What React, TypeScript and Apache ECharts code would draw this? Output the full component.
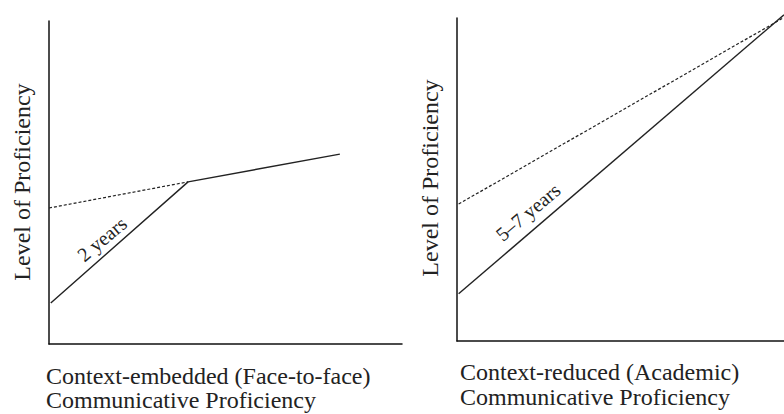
import React, { useEffect, useRef } from "react";
import * as echarts from "echarts";

// Left panel: context-embedded (face-to-face) proficiency
const leftDashed: [number, number][] = [[0, 42.1], [39.4, 50.2]];
const leftSolid: [number, number][] = [[0.5, 12.7], [39.4, 50.2], [82.4, 58.8]];
// Right panel: context-reduced (academic) proficiency
const rightDashed: [number, number][] = [[0.5, 42.4], [99.7, 100]];
const rightSolid: [number, number][] = [[0.5, 14.6], [100, 101]];

const yTitle = "Level of Proficiency";
const leftXTitle = ["Context-embedded (Face-to-face)", "Communicative Proficiency"];
const rightXTitle = ["Context-reduced (Academic)", "Communicative Proficiency"];
const leftNote = "2 years";
const rightNote = "5\u20137 years";

const FONT = "'Liberation Serif', 'Times New Roman', serif";
const INK = "#222";

export default function App() {
  const ref = useRef<HTMLDivElement>(null);
  useEffect(() => {
    if (!ref.current) return;
    const chart = echarts.init(ref.current, undefined, { renderer: "svg" });
    const axisCommon = {
      type: "value" as const,
      min: 0,
      max: 100,
      axisLine: { show: true, onZero: false, lineStyle: { color: "#111", width: 1.5 } },
      axisTick: { show: false },
      axisLabel: { show: false },
      splitLine: { show: false },
    };
    const lineCommon = {
      type: "line" as const,
      symbol: "none",
      clip: false,
      silent: true,
    };
    const ang = (40 * Math.PI) / 180;
    chart.setOption({
      animation: false,
      backgroundColor: "#fff",
      grid: [
        { left: 49, top: 21, width: 353, height: 323 },
        { left: 457, top: 18, width: 327, height: 323 },
      ],
      xAxis: [
        { ...axisCommon, gridIndex: 0 },
        { ...axisCommon, gridIndex: 1 },
      ],
      yAxis: [
        { ...axisCommon, gridIndex: 0 },
        { ...axisCommon, gridIndex: 1 },
      ],
      series: [
        { ...lineCommon, xAxisIndex: 0, yAxisIndex: 0, data: leftDashed, lineStyle: { color: INK, width: 1.2, type: [3, 2] } },
        { ...lineCommon, xAxisIndex: 0, yAxisIndex: 0, data: leftSolid, lineStyle: { color: INK, width: 1.4 } },
        { ...lineCommon, xAxisIndex: 1, yAxisIndex: 1, data: rightDashed, lineStyle: { color: INK, width: 1.2, type: [3, 2] } },
        { ...lineCommon, xAxisIndex: 1, yAxisIndex: 1, data: rightSolid, lineStyle: { color: INK, width: 1.4 } },
      ],
      graphic: [
        { type: "text", x: 22, y: 182, rotation: Math.PI / 2, style: { text: yTitle, font: `24px ${FONT}`, fill: INK, align: "center", verticalAlign: "middle" } },
        { type: "text", x: 430, y: 178, rotation: Math.PI / 2, style: { text: yTitle, font: `24px ${FONT}`, fill: INK, align: "center", verticalAlign: "middle" } },
        { type: "text", x: 46, y: 376, style: { text: leftXTitle[0], font: `24px ${FONT}`, fill: INK, align: "left", verticalAlign: "middle" } },
        { type: "text", x: 46, y: 400, style: { text: leftXTitle[1], font: `24px ${FONT}`, fill: INK, align: "left", verticalAlign: "middle" } },
        { type: "text", x: 460, y: 372, style: { text: rightXTitle[0], font: `24px ${FONT}`, fill: INK, align: "left", verticalAlign: "middle" } },
        { type: "text", x: 460, y: 397, style: { text: rightXTitle[1], font: `24px ${FONT}`, fill: INK, align: "left", verticalAlign: "middle" } },
        { type: "text", x: 102, y: 239, rotation: ang, style: { text: leftNote, font: `20px ${FONT}`, fill: INK, align: "center", verticalAlign: "middle" } },
        { type: "text", x: 528, y: 212, rotation: ang, style: { text: rightNote, font: `20px ${FONT}`, fill: INK, align: "center", verticalAlign: "middle" } },
      ],
    });
    return () => chart.dispose();
  }, []);
  return <div ref={ref} style={{ position: "absolute", left: 0, top: 0, width: 784, height: 414 }} />;
}
